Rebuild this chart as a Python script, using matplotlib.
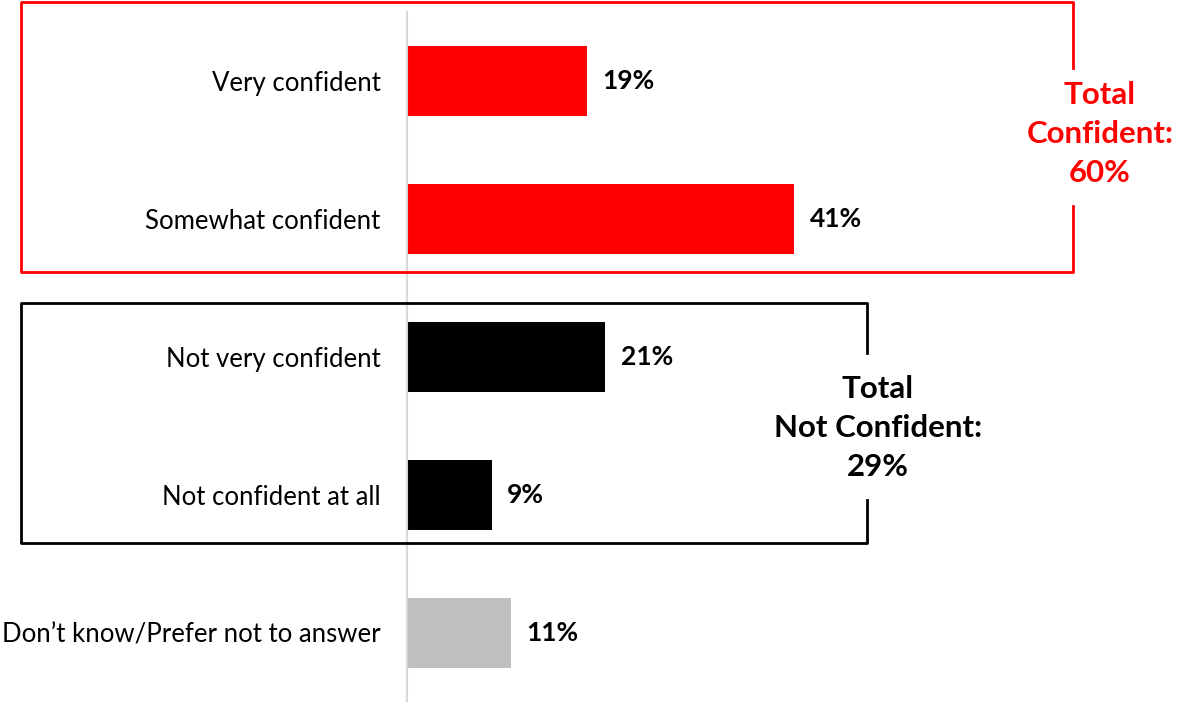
import matplotlib
matplotlib.use("Agg")
import matplotlib.pyplot as plt
from matplotlib.lines import Line2D

plt.rcParams['font.family'] = ['Lato', 'DejaVu Sans']

categories = ["Very confident", "Somewhat confident", "Not very confident",
              "Not confident at all", "Don\u2019t know/Prefer not to answer"]
values = [19, 41, 21, 9, 11]
colors = ["#ff0000", "#ff0000", "#000000", "#000000", "#bfbfbf"]
total_conf = 60
total_not = 29

W, H = 1177, 702
fig = plt.figure(figsize=(W / 100, H / 100), dpi=100)
ax = fig.add_axes([407 / W, 0, 1 - 407 / W, (H - 12) / H])

ypos = list(range(len(categories)))
ax.barh(ypos, values, height=0.51, color=colors)
ax.set_xlim(0, 81.5)
ax.set_ylim(4.5, -0.5)
ax.set_xticks([])
ax.set_yticks(ypos)
ax.set_yticklabels(categories, fontsize=18.5)
ax.tick_params(axis='y', length=0, pad=19)
for s in ['top', 'right', 'bottom']:
    ax.spines[s].set_visible(False)
ax.spines['left'].set_color('#d9d9d9')
ax.spines['left'].set_linewidth(1.5)

for y, v in zip(ypos, values):
    ax.annotate(f"{v}%", (v, y), xytext=(11, 0), textcoords='offset points',
                va='center', ha='left', fontsize=19, fontweight='bold')


def px(x, y):
    return x / W, 1 - y / H


def box(x0, y0, x1, y1, gap0, gap1, color):
    pts = [(x1, gap0), (x1, y0), (x0, y0), (x0, y1), (x1, y1), (x1, gap1)]
    xs, ys = zip(*[px(a, b) for a, b in pts])
    fig.add_artist(Line2D(xs, ys, color=color, lw=2, transform=fig.transFigure))


box(21, 2, 1073, 272, 68, 206, '#ff0000')
box(21, 303, 867, 543, 353, 500, '#000000')

fig.text(*px(1100, 134), f"Total\nConfident:\n{total_conf}%", ha='center', va='center',
         fontsize=22.5, fontweight='bold', color='#ff0000', linespacing=1.5)
fig.text(*px(878, 428), f"Total\nNot Confident:\n{total_not}%", ha='center', va='center',
         fontsize=22.5, fontweight='bold', color='#000000', linespacing=1.5)

fig.savefig("out.png", dpi=100)
